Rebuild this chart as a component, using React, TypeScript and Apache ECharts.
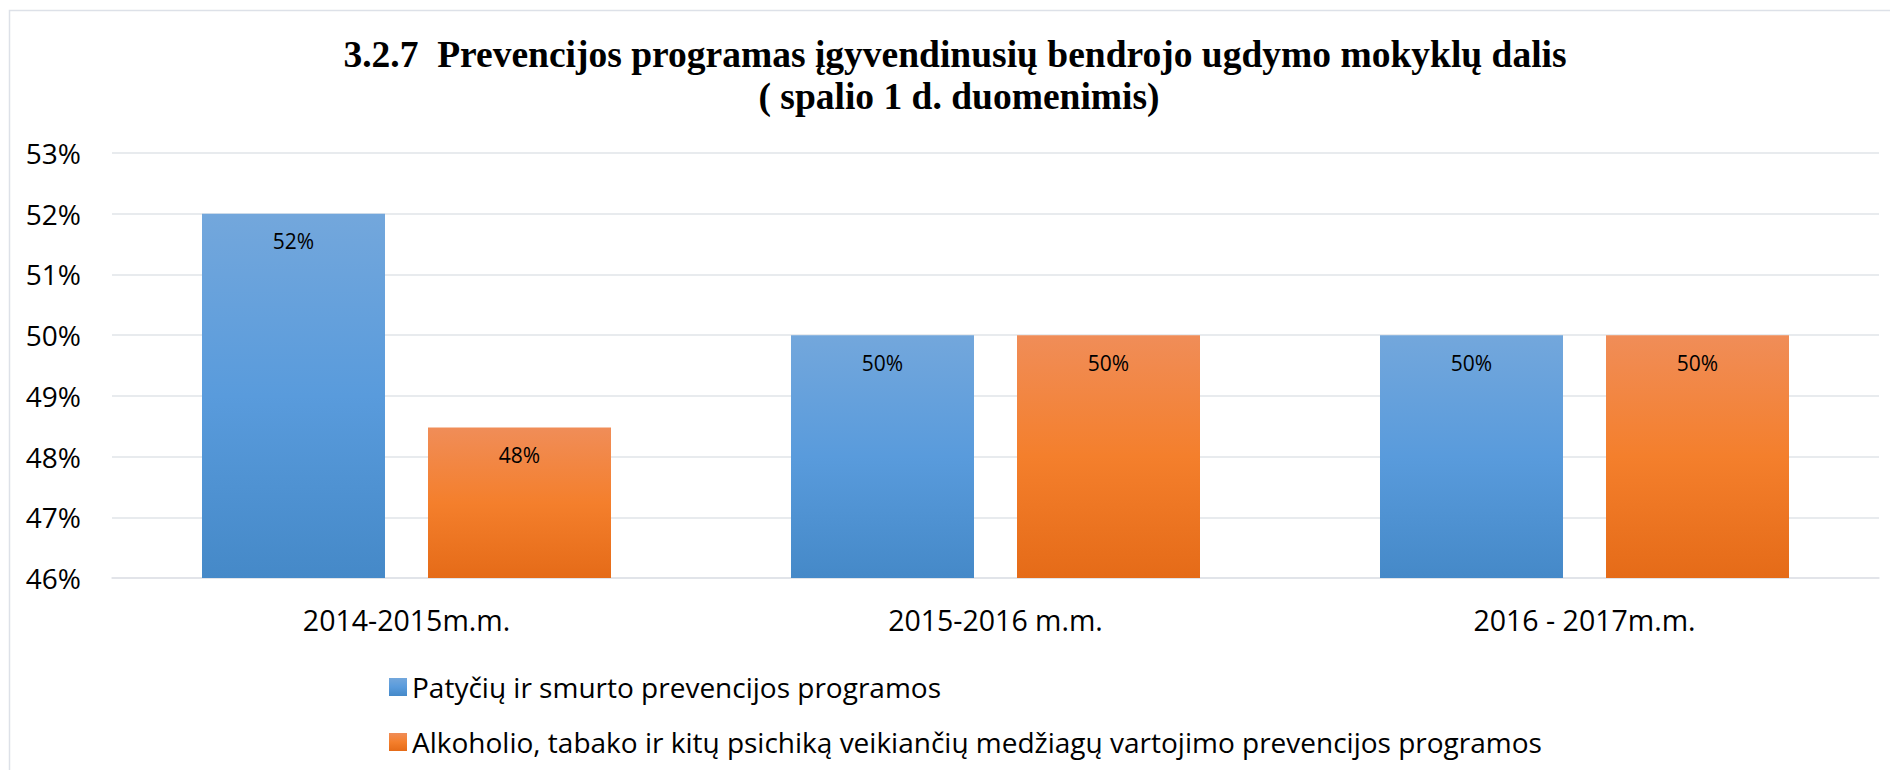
import React, { useEffect, useRef } from "react";
import * as echarts from "echarts";

const categories = ["2014-2015m.m.", "2015-2016 m.m.", "2016 - 2017m.m."];
const seriesNames = [
  "Patyčių ir smurto prevencijos programos",
  "Alkoholio, tabako ir kitų psichiką veikiančių medžiagų vartojimo prevencijos programos",
];
const bullyingValues = [52, 50, 50];
const substanceValues = [48.48, 50, 50];
const titleLines = [
  "3.2.7  Prevencijos programas įgyvendinusių bendrojo ugdymo mokyklų dalis",
  "( spalio 1 d. duomenimis)",
];
const yMin = 46;
const yMax = 53;
const yStep = 1;

const FONT = "'Open Sans', 'Noto Sans', sans-serif";
const TITLE_FONT = "bold 37.5px 'Liberation Serif', 'Times New Roman', serif";

const blueGrad = () =>
  new echarts.graphic.LinearGradient(0, 0, 0, 1, [
    { offset: 0, color: "#73a7dc" },
    { offset: 0.5, color: "#599bdc" },
    { offset: 1, color: "#4589c8" },
  ]);
const orangeGrad = () =>
  new echarts.graphic.LinearGradient(0, 0, 0, 1, [
    { offset: 0, color: "#f08d58" },
    { offset: 0.5, color: "#f47f2c" },
    { offset: 1, color: "#e56b18" },
  ]);

export default function App() {
  const ref = useRef<HTMLDivElement>(null);
  useEffect(() => {
    if (!ref.current) return;
    const chart = echarts.init(ref.current, null, { renderer: "svg" });
    const label = {
      show: true,
      position: "insideTop",
      distance: 17,
      color: "#000",
      fontFamily: FONT,
      fontSize: 21,
      formatter: (p: any) => Math.round(p.value) + "%",
    };
    chart.setOption({
      animation: false,
      backgroundColor: "#ffffff",
      graphic: [
        {
          type: "rect",
          shape: { x: 9.5, y: 10.5, width: 1900, height: 800 },
          style: { fill: "none", stroke: "#dde1e8", lineWidth: 1.5 },
          silent: true,
        },
        {
          type: "text",
          x: 955,
          y: 54,
          style: {
            text: titleLines[0],
            font: TITLE_FONT,
            fill: "#000",
            textAlign: "center",
            textVerticalAlign: "middle",
          },
        },
        {
          type: "text",
          x: 959,
          y: 96,
          style: {
            text: titleLines[1],
            font: TITLE_FONT,
            fill: "#000",
            textAlign: "center",
            textVerticalAlign: "middle",
          },
        },
      ],
      grid: { left: 112, right: 11, top: 153, bottom: 192, containLabel: false },
      xAxis: {
        type: "category",
        data: categories,
        axisTick: { show: false },
        axisLine: { lineStyle: { color: "#dfe2e7", width: 1.5 } },
        axisLabel: { color: "#000", fontFamily: FONT, fontSize: 28.5, margin: 27 },
      },
      yAxis: {
        type: "value",
        min: yMin,
        max: yMax,
        interval: yStep,
        axisLine: { show: false },
        axisTick: { show: false },
        splitLine: { lineStyle: { color: "#e1e4e9", width: 1.5 } },
        axisLabel: {
          color: "#000",
          fontFamily: FONT,
          fontSize: 28,
          margin: 31,
          formatter: (v: number) => v + "%",
        },
      },
      legend: {
        orient: "vertical",
        left: 384,
        top: 668,
        icon: "rect",
        itemWidth: 18,
        itemHeight: 18,
        itemGap: 27,
        textStyle: { color: "#000", fontFamily: FONT, fontSize: 28, lineHeight: 28 },
        data: seriesNames,
      },
      series: [
        {
          name: seriesNames[0],
          type: "bar",
          data: bullyingValues,
          barWidth: 183,
          barGap: "23.5%",
          itemStyle: { color: blueGrad() },
          label,
        },
        {
          name: seriesNames[1],
          type: "bar",
          data: substanceValues,
          barWidth: 183,
          barGap: "23.5%",
          itemStyle: { color: orangeGrad() },
          label,
        },
      ],
    });
    return () => chart.dispose();
  }, []);
  return (
    <div
      ref={ref}
      style={{ position: "absolute", left: 0, top: 0, width: 1890, height: 770 }}
    />
  );
}
